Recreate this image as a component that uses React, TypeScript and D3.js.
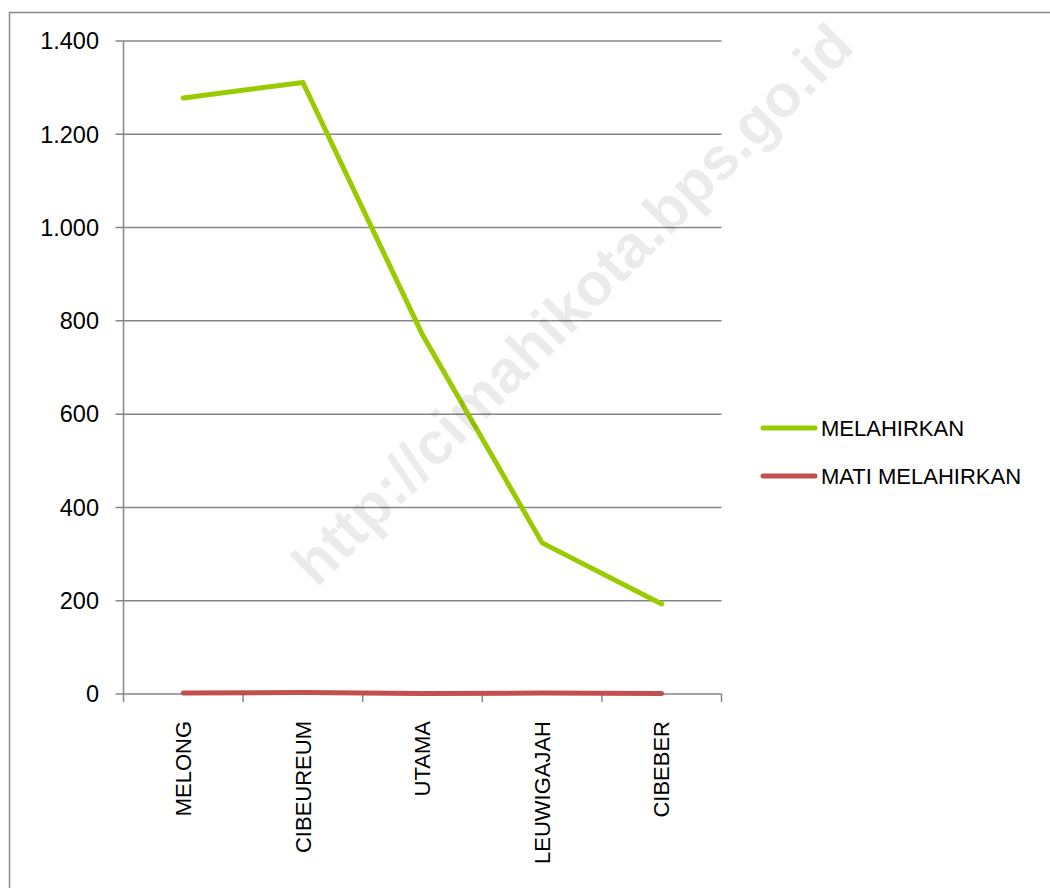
import React from "react";
import * as d3 from "d3";

const categories = ["MELONG", "CIBEUREUM", "UTAMA", "LEUWIGAJAH", "CIBEBER"];
const melahirkan = [1278, 1311, 770, 324, 193];
const matiMelahirkan = [2, 3, 1, 2, 1];
const yTicks = [0, 200, 400, 600, 800, 1000, 1200, 1400];
const seriesNames = ["MELAHIRKAN", "MATI MELAHIRKAN"];
const seriesColors = ["#99cc00", "#c0504d"];

const W = 1050;
const H = 888;
const FONT = "'Liberation Sans', Arial, sans-serif";

export default function App() {
  const x = d3.scaleBand<string>().domain(categories).range([123.5, 721.5]);
  const y = d3.scaleLinear().domain([0, 1400]).range([694, 41]);
  const fmt = (v: number) => d3.format(",")(v).replace(/,/g, ".");
  const line = d3
    .line<number>()
    .x((_, i) => (x(categories[i]) as number) + x.bandwidth() / 2)
    .y((d) => y(d));
  const series = [melahirkan, matiMelahirkan];
  const [x0, x1] = x.range();

  return (
    <svg
      width={W}
      height={H}
      style={{ position: "absolute", left: 0, top: 0, background: "#fff" }}
      fontFamily={FONT}
    >
      <rect x={0} y={0} width={W} height={H} fill="#fff" />
      <rect x={9.5} y={12.5} width={W + 20} height={H + 20} fill="none" stroke="#888" strokeWidth={1.5} />
      {yTicks.map((t) => (
        <g key={t}>
          <line x1={x0 - 8} x2={x1} y1={y(t)} y2={y(t)} stroke="#868686" strokeWidth={1.5} />
          <text x={99} y={y(t)} dy="0.35em" textAnchor="end" fontSize={23.5} fill="#000">
            {fmt(t)}
          </text>
        </g>
      ))}
      <line x1={x0} x2={x0} y1={y(1400)} y2={702} stroke="#868686" strokeWidth={1.5} />
      {categories.map((c) => (
        <line
          key={"t" + c}
          x1={(x(c) as number) + x.bandwidth()}
          x2={(x(c) as number) + x.bandwidth()}
          y1={694}
          y2={702}
          stroke="#868686"
          strokeWidth={1.5}
        />
      ))}
      {categories.map((c) => {
        const cx = (x(c) as number) + x.bandwidth() / 2;
        return (
          <text
            key={"l" + c}
            transform={`translate(${cx},721) rotate(-90)`}
            textAnchor="end"
            dy="0.35em"
            fontSize={22}
            fill="#000"
          >
            {c}
          </text>
        );
      })}
      {series.map((s, i) => (
        <path
          key={"s" + i}
          d={line(s) as string}
          fill="none"
          stroke={seriesColors[i]}
          strokeWidth={5}
          strokeLinecap="round"
          strokeLinejoin="round"
        />
      ))}
      {seriesNames.map((n, i) => (
        <g key={"lg" + n} transform={`translate(0,${428 + i * 48})`}>
          <line x1={763} x2={815} y1={0} y2={0} stroke={seriesColors[i]} strokeWidth={5} strokeLinecap="round" />
          <text x={821} y={0} dy="0.35em" fontSize={22} fill="#000">
            {n}
          </text>
        </g>
      ))}
      <text
        transform="translate(572,304) rotate(-45)"
        textAnchor="middle"
        dy="0.35em"
        fontSize={60}
        fontWeight="bold"
        fill="#000"
        fillOpacity={0.08}
      >
        http://cimahikota.bps.go.id
      </text>
    </svg>
  );
}
